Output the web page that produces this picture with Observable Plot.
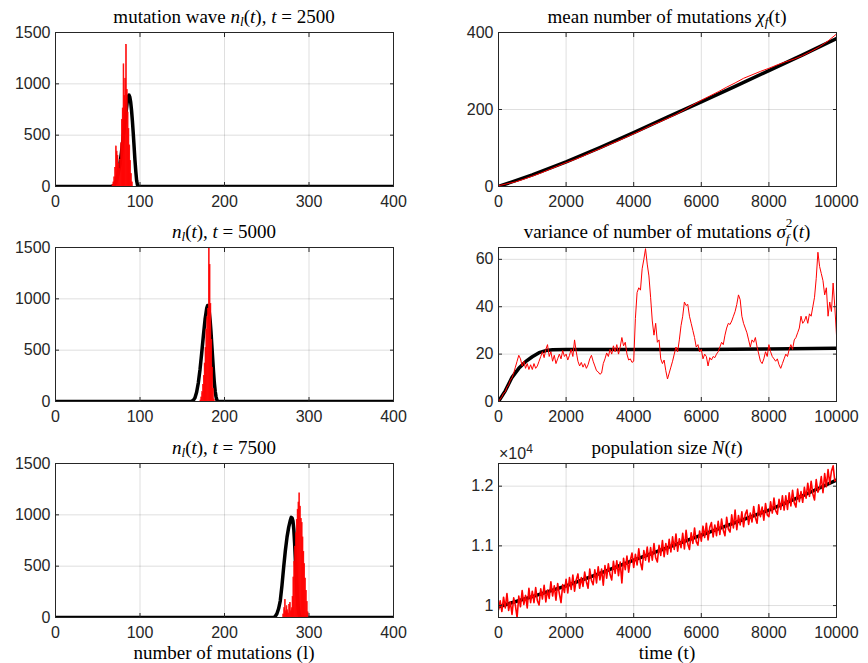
<!DOCTYPE html>
<html><head><meta charset="utf-8">
<script src="https://cdn.jsdelivr.net/npm/d3@7"></script>
<script src="https://cdn.jsdelivr.net/npm/@observablehq/plot@0.6"></script>
<style>
body{margin:0;background:#fff;}
#fig{position:relative;width:868px;height:663px;background:#fff;overflow:hidden;}
.panel{position:absolute;}
.title{position:absolute;font-family:"Liberation Serif","Times New Roman",serif;font-size:19px;color:#000;text-align:center;white-space:nowrap;line-height:14px;}
.title sub{font-size:70%;vertical-align:-0.25em;line-height:0;}
.stack{display:inline-block;font-size:70%;line-height:1.15em;vertical-align:baseline;position:relative;top:5px;margin-top:-24px;text-align:left;}
.exp{position:absolute;font-family:"Liberation Sans",Arial,sans-serif;font-size:16px;color:#262626;line-height:14px;}
.exp sup{font-size:75%;vertical-align:0.5em;line-height:0;}
</style></head><body><div id="fig"></div><script>
// ---------- data ----------
// mutation wave histograms (red) and model curves (black), t = 2500 / 5000 / 7500
const wave1L = [68,69,70,71,72,73,74,75,76,77,78,79,80,81,82,83,84,85,86,87,88,89,90,91];
const wave1N = [15,40,90,180,390,340,300,220,170,260,420,650,760,1190,880,1050,1380,940,720,560,400,250,120,40];
const model1L = [0,66,68,70,72,74,76,78,80,82,84,85,86,87,88,89,90,91,92,93,94,95,96,97,98,400];
const model1N = [0,0,5,20,55,120,210,330,470,620,760,830,875,890,870,820,740,640,520,390,260,150,60,15,0,0];

const wave2L = [172,173,174,175,176,177,178,179,180,181,182,183,184,185,186,187,188];
const wave2N = [10,40,90,160,250,370,520,700,820,900,1500,1330,950,600,330,120,20];
const model2L = [0,160,163,165,167,169,171,173,175,177,179,180,181,182,183,184,185,186,187,188,189,190,191,192,193,400];
const model2N = [0,0,10,35,90,180,310,470,640,800,910,935,920,870,790,680,550,420,290,180,100,45,15,3,0,0];

const wave3L = [270,271,272,273,274,275,276,277,278,279,280,281,282,283,284,285,286,287,288,289,290,291,292,293,294,295,296,297,298,299];
const wave3N = [30,90,170,60,110,70,40,120,140,60,90,200,390,540,690,820,950,1050,1120,1210,1080,960,920,780,640,520,380,260,150,50];
const model3L = [0,258,260,262,264,266,268,270,272,274,276,278,279,280,281,282,283,284,285,286,287,288,289,290,400];
const model3N = [0,0,10,36,85,163,310,489,650,783,880,950,975,970,940,860,720,540,380,230,120,50,15,0,0];

// mean number of mutations
const meanModelT = [0,1000,2000,3000,4000,5000,6000,7000,8000,9000,10000];
const meanModel  = [0,30,64,101,140,180,220,260,301,342,384];
const meanSimT = [0,250,500,750,1000,1250,1500,1750,2000,2250,2500,2750,3000,3250,3500,3750,4000,4250,4500,4750,5000,5250,5500,5750,6000,6250,6500,6750,7000,7250,7500,7750,8000,8250,8500,8750,9000,9250,9500,9750,10000];
const meanSim  = [2,7,12,19,27,35,44,53,62,70,79,89,98,108,117,127,137,147,158,167,177,187,199,212,224,235,246,258,269,281,290,299,307,316,324,331,340,351,363,378,396];

// variance of number of mutations
const varModelT = [0,200,400,600,800,1000,1200,1400,1600,2000,4000,6000,8000,10000];
const varModel  = [0,4.5,10.2,14,16.8,18.9,20.6,21.5,21.8,21.9,21.9,22.0,22.2,22.5];
const simT = d3.range(0, 10001, 50); // simulation output grid, step 50
const varSim = [0,1,2,3.5,4,6,7,9,10,12,14.5,17,19.5,18,15,17,14,16,13.5,15.5,
  13.5,16,14,15,17,19,21,18.5,22,24,19,21,17,19.5,16,18,20,18,21.5,19,
  20,17.5,19.5,22,19,26,21,17,15,16.5,14.5,16,14,15.5,18,19.5,17,15,13,12.5,
  11.5,12,16,18,20.5,19,22,20,23.5,21,24,20,23,27,23.5,25,20,17.5,18,16.5,
  17,35,46,48,47,56,60,64.5,58,53,44,34,28,33,25,26,18,16,17.5,13,
  9.5,12,14.5,17,20,23,21,26,32,36,42,40.5,41,36,33,30,27,23,24,21,
  22,18,20,19,15,18.5,17.5,19,18.5,20,21,23,25,24,28,31,33,32.5,34,36,
  38,41,45,43,36,33,31,29,26,23,26,25,27,23,20,17,16,18,21,19,
  24,21,19,18,17,18,15.5,14,16,18,20,19,22,24,22,26,27,29,31,36,
  33,34,36,33,37,36,40,44,52,63,57,54,51,45,48,36,42,38,50,40,
  28];

// population size
const popModelT = [0,1000,2000,3000,4000,5000,6000,7000,8000,9000,10000];
const popModel  = [9980,10150,10330,10540,10760,10970,11180,11390,11600,11840,12100];
const popSim = [9930,10080,9900,10140,9960,10200,9920,10060,9850,10130,
  10000,9800,10160,9980,10250,10020,10170,9960,10290,10050,
  10240,10050,10300,10080,10010,10280,10110,10340,10060,10260,
  10120,10400,10160,10330,10090,10370,10200,10050,10350,10220,
  10440,10210,10470,10270,10510,10240,10430,10530,10290,10470,
  10320,10560,10400,10290,10610,10420,10350,10600,10380,10650,
  10430,10610,10340,10670,10460,10700,10520,10430,10740,10540,
  10750,10500,10730,10380,10790,10600,10830,10560,10760,10880,
  10640,10860,10680,10950,10720,10600,10920,10760,10980,10730,
  10970,10760,11040,10800,10730,11010,10840,11090,10820,11040,
  10860,11110,10900,11150,10940,11200,10910,11120,10970,11210,
  10950,11260,11030,10940,11220,11040,11300,11070,11010,11250,
  11080,11330,11140,11380,11100,11310,11390,11150,11350,11170,
  11410,11190,11450,11260,11170,11480,11280,11230,11520,11300,
  11600,11270,11510,11350,11570,11320,11530,11600,11360,11550,
  11400,11660,11470,11380,11690,11490,11650,11430,11710,11520,
  11490,11740,11550,11800,11590,11530,11780,11610,11840,11600,
  11840,11610,11890,11670,11930,11720,11650,11950,11740,11910,
  11730,11980,11800,12050,11830,12080,11870,11770,12110,11900,
  11970,12160,11890,12210,11990,12280,12040,12250,12340,12090,
  12100];

const lTicks = [0,100,200,300,400];
const nTicks = [0,500,1000,1500];
const tTicks = [0,2000,4000,6000,8000,10000];
const meanTicks = [0,200,400];
const varTicks = [0,20,40,60];
const popTicks = [10000,11000,12000];

// ---------- layout ----------
const fig = document.getElementById("fig");
const boxW = 338, boxH = 154;
const colX = [55, 498];
const rowY = [32, 247, 463];
const M = {top: 10, right: 28, bottom: 32, left: 60};
const pairs = (xs, ys) => xs.map((x, i) => ({x, y: ys[i]}));
const bars = (ls, ns) => ls.map((l, i) => ({l, n: ns[i]}));
const axisColor = "#262626";
const tickFont = {fontSize: 16, fontFamily: '"Liberation Sans", Arial, Helvetica, sans-serif'};

function panel(col, row, o) {
  const chart = Plot.plot({
    width: boxW + M.left + M.right,
    height: boxH + M.top + M.bottom,
    marginTop: M.top, marginRight: M.right, marginBottom: M.bottom, marginLeft: M.left,
    style: {fontFamily: '"Liberation Sans", Arial, Helvetica, sans-serif', fontSize: "16px", color: axisColor, background: "transparent", overflow: "visible"},
    x: {domain: o.xd, label: null},
    y: {domain: o.yd, label: null},
    marks: [
      Plot.gridX(o.xt, {stroke: axisColor, strokeOpacity: 0.15}),
      Plot.gridY(o.yt, {stroke: axisColor, strokeOpacity: 0.15}),
      ...o.marks,
      Plot.frame({stroke: axisColor, strokeWidth: 1}),
      Plot.axisX(o.xt, {anchor: "bottom", tickSize: -4, tickPadding: 13, stroke: axisColor, fill: axisColor, label: null, tickFormat: d => String(d), ...tickFont}),
      Plot.axisX(o.xt, {anchor: "top", tickSize: -4, stroke: axisColor, fill: "none", label: null, tickFormat: () => ""}),
      Plot.axisY(o.yt, {anchor: "left", tickSize: -4, tickPadding: 9, stroke: axisColor, fill: axisColor, label: null, tickFormat: o.yf || (d => String(d)), ...tickFont}),
      Plot.axisY(o.yt, {anchor: "right", tickSize: -4, stroke: axisColor, fill: "none", label: null, tickFormat: () => ""})
    ]
  });
  chart.classList.add("panel");
  chart.style.left = (colX[col] - M.left) + "px";
  chart.style.top = (rowY[row] - M.top) + "px";
  fig.appendChild(chart);
}

function waveMarks(modelL, modelN, waveL, waveN) {
  return [
    Plot.line(pairs(modelL, modelN), {x: "x", y: "y", stroke: "#000", strokeWidth: 3.5, clip: true}),
    Plot.rectY(bars(waveL, waveN), {x1: d => d.l - 0.5, x2: d => d.l + 0.5, y: "n", fill: "#ff0000", stroke: "#ff0000", strokeWidth: 0.6, clip: true})
  ];
}

panel(0, 0, {xd: [0, 400], yd: [0, 1500], xt: lTicks, yt: nTicks, marks: waveMarks(model1L, model1N, wave1L, wave1N)});
panel(0, 1, {xd: [0, 400], yd: [0, 1500], xt: lTicks, yt: nTicks, marks: waveMarks(model2L, model2N, wave2L, wave2N)});
panel(0, 2, {xd: [0, 400], yd: [0, 1500], xt: lTicks, yt: nTicks, marks: waveMarks(model3L, model3N, wave3L, wave3N)});

panel(1, 0, {xd: [0, 10000], yd: [0, 400], xt: tTicks, yt: meanTicks, marks: [
  Plot.line(pairs(meanModelT, meanModel), {x: "x", y: "y", stroke: "#000", strokeWidth: 3.5, clip: true}),
  Plot.line(pairs(meanSimT, meanSim), {x: "x", y: "y", stroke: "#ff0000", strokeWidth: 1, clip: true})
]});
panel(1, 1, {xd: [0, 10000], yd: [0, 65], xt: tTicks, yt: varTicks, marks: [
  Plot.line(pairs(varModelT, varModel), {x: "x", y: "y", stroke: "#000", strokeWidth: 3.5, clip: true}),
  Plot.line(pairs(simT, varSim), {x: "x", y: "y", stroke: "#ff0000", strokeWidth: 1, clip: true})
]});
panel(1, 2, {xd: [0, 10000], yd: [9800, 12380], xt: tTicks, yt: popTicks, yf: d => String(d / 1e4), marks: [
  Plot.line(pairs(popModelT, popModel), {x: "x", y: "y", stroke: "#000", strokeWidth: 3.5, clip: true}),
  Plot.line(pairs(simT, popSim), {x: "x", y: "y", stroke: "#ff0000", strokeWidth: 1.6, clip: true})
]});

// ---------- text ----------
function label(html, col, baseline) {
  const d = document.createElement("div");
  d.className = "title";
  d.innerHTML = html;
  d.style.left = colX[col] + "px";
  d.style.width = boxW + "px";
  d.style.top = (baseline - 13.4) + "px";
  fig.appendChild(d);
}
label('mutation wave <i>n<sub>l</sub></i>(<i>t</i>), <i>t</i> = 2500', 0, 23);
label('mean number of mutations <i>χ<sub>f</sub></i>(t)', 1, 23);
label('<i>n<sub>l</sub></i>(<i>t</i>), <i>t</i> = 5000', 0, 238);
label('variance of number of mutations <i>σ</i><span class="stack">2<br><i>f</i></span>(<i>t</i>)', 1, 238);
label('<i>n<sub>l</sub></i>(<i>t</i>), <i>t</i> = 7500', 0, 454);
label('population size <i>N</i>(<i>t</i>)', 1, 454);
label('number of mutations (l)', 0, 659);
label('time (t)', 1, 659);

const e = document.createElement("div");
e.className = "exp";
e.innerHTML = '×10<sup>4</sup>';
e.style.left = "499px";
e.style.top = "447px";
fig.appendChild(e);
</script></body></html>
